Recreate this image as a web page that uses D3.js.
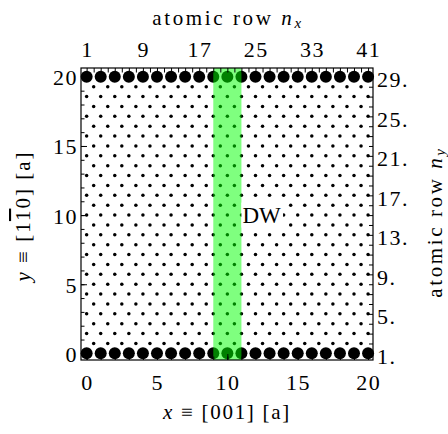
<!DOCTYPE html>
<html>
<head>
<meta charset="utf-8">
<script src="https://cdn.jsdelivr.net/npm/d3@7"></script>
<style>
  html, body { margin: 0; padding: 0; background: #fff; }
  svg { display: block; }
  svg text { font-family: "Liberation Serif", "Times New Roman", Times, serif; }
</style>
</head>
<body>
<svg id="chart" width="448" height="434"></svg>
<script>
// Axis ticks, in lattice units [a] and in atomic-row numbers
const xTicks = [0, 5, 10, 15, 20];
const yTicks = [0, 5, 10, 15, 20];
const nxTicks = [1, 9, 17, 25, 33, 41];
const nyTicks = [1, 5, 9, 13, 17, 21, 25, 29];

// Atomic rows along x (nx) and along y (ny)
const nxRows = [1, 2, 3, 4, 5, 6, 7, 8, 9, 10, 11, 12, 13, 14, 15, 16, 17, 18, 19, 20,
                21, 22, 23, 24, 25, 26, 27, 28, 29, 30, 31, 32, 33, 34, 35, 36, 37, 38, 39, 40, 41];
const nyRows = [1, 2, 3, 4, 5, 6, 7, 8, 9, 10, 11, 12, 13, 14, 15, 16, 17, 18, 19, 20,
                21, 22, 23, 24, 25, 26, 27, 28, 29];
// Edge rows (film boundaries) drawn as large atoms
const edgeRows = [1, 29];

// Domain wall extent in x [a] and label position
const wallX = [9, 11];
const wallLabel = { text: "DW", x: 11, y: 10 };

const svg = d3.select("#chart");
const L = 81, R = 373, T = 68, B = 360;

const x = d3.scaleLinear().domain([-0.4, 20.35]).range([L, R]);
const y = d3.scaleLinear().domain([-0.48, 20.64]).range([B, T]);
// row number -> position
const nxToX = d3.scaleLinear().domain([1, 41]).range([0, 20]);
const nyToY = d3.scaleLinear().domain([1, 29]).range([0, 20]);

// bcc(110) lattice: atoms where nx and ny have the same parity
const atoms = [];
nyRows.forEach(ny => nxRows.forEach(nx => {
  if ((nx + ny) % 2 === 0) atoms.push({ nx, ny, edge: edgeRows.includes(ny) });
}));

const plot = svg.append("g");
plot.selectAll("circle.atom").data(atoms).join("circle")
  .attr("class", "atom")
  .attr("cx", d => x(nxToX(d.nx)))
  .attr("cy", d => y(nyToY(d.ny)))
  .attr("r", d => d.edge ? 6 : 1.75)
  .attr("fill", "#000");

// Domain wall band
plot.append("rect")
  .attr("x", x(wallX[0])).attr("y", T)
  .attr("width", x(wallX[1]) - x(wallX[0])).attr("height", B - T)
  .attr("fill", "rgb(0,255,0)").attr("fill-opacity", 0.5);

// Wall label with white background
const lbl = plot.append("g");
const lblText = lbl.append("text")
  .attr("x", x(wallLabel.x) + 1).attr("y", y(wallLabel.y))
  .attr("dominant-baseline", "central")
  .attr("font-size", 23)
  .text(wallLabel.text);
const bb = lblText.node().getBBox();
lbl.insert("rect", "text")
  .attr("x", x(wallLabel.x)).attr("y", bb.y)
  .attr("width", bb.width + 3).attr("height", bb.height)
  .attr("fill", "#fff");

// Frame axes with inward ticks
svg.append("g").attr("transform", `translate(0,${B})`)
  .call(d3.axisBottom(x).tickValues(d3.range(0, 21)).tickSize(-3.5).tickFormat(""));
svg.append("g").attr("transform", `translate(${L},0)`)
  .call(d3.axisLeft(y).tickValues(d3.range(0, 21)).tickSize(-3.5).tickFormat(""));
svg.append("g").attr("transform", `translate(0,${T})`)
  .call(d3.axisTop(x).tickValues(nxRows.map(nxToX)).tickSize(-4.5).tickFormat(""));
svg.append("g").attr("transform", `translate(${R},0)`)
  .call(d3.axisRight(y).tickValues(nyRows.map(nyToY)).tickSize(-4).tickFormat(""));
// longer major ticks
svg.append("g").attr("transform", `translate(0,${B})`)
  .call(d3.axisBottom(x).tickValues(xTicks).tickSize(-6).tickFormat(""));
svg.append("g").attr("transform", `translate(${L},0)`)
  .call(d3.axisLeft(y).tickValues(yTicks).tickSize(-6).tickFormat(""));

svg.selectAll(".domain").remove();
svg.selectAll(".tick line").attr("stroke", "#000").attr("stroke-width", 1);

svg.append("rect")
  .attr("x", L).attr("y", T).attr("width", R - L).attr("height", B - T)
  .attr("fill", "none").attr("stroke", "#000").attr("stroke-width", 1.2);

// Tick labels
const fs = 22;
const ls = 1.5;
const lab = svg.append("g").attr("font-size", fs).attr("fill", "#000");
lab.selectAll("text.xb").data(xTicks).join("text")
  .attr("x", d => x(d) + ls / 2).attr("y", 390).attr("text-anchor", "middle")
  .attr("letter-spacing", ls).text(d => d);
lab.selectAll("text.yl").data(yTicks).join("text")
  .attr("x", 78).attr("y", d => y(d) + 1).attr("text-anchor", "end")
  .attr("dominant-baseline", "central").attr("letter-spacing", ls).text(d => d);
lab.selectAll("text.xt").data(nxTicks).join("text")
  .attr("x", d => x(nxToX(d)) + ls / 2).attr("y", 57).attr("text-anchor", "middle")
  .attr("letter-spacing", ls).text(d => d);
lab.selectAll("text.yr").data(nyTicks).join("text")
  .attr("x", 377).attr("y", d => y(nyToY(d)) + 3)
  .attr("dominant-baseline", "central").attr("letter-spacing", ls).text(d => d + ".");

// Axis titles
const tfs = 21;
const topTitle = svg.append("text").attr("x", (L + R) / 2 + 1).attr("y", 25)
  .attr("text-anchor", "middle").attr("font-size", tfs).attr("letter-spacing", 2.6);
topTitle.append("tspan").text("atomic row ");
topTitle.append("tspan").attr("font-style", "italic").text("n");
topTitle.append("tspan").attr("font-style", "italic").attr("font-size", 15).attr("dy", 3).text("x");

const botTitle = svg.append("text").attr("x", (L + R) / 2).attr("y", 419)
  .attr("text-anchor", "middle").attr("font-size", tfs).attr("letter-spacing", 1.7);
botTitle.append("tspan").attr("font-style", "italic").text("x");
botTitle.append("tspan").text(" \u2261 [001] [a]");

const leftTitle = svg.append("text")
  .attr("transform", `translate(30,${(T + B) / 2 + 2}) rotate(-90)`)
  .attr("text-anchor", "middle").attr("font-size", tfs).attr("letter-spacing", 2);
leftTitle.append("tspan").attr("font-style", "italic").text("y");
leftTitle.append("tspan").text(" \u2261 [1");
leftTitle.append("tspan").style("text-decoration", "overline").text("1");
leftTitle.append("tspan").text("0] [a]");

const rightTitle = svg.append("text")
  .attr("transform", `translate(442,${(T + B) / 2 + 8}) rotate(-90)`)
  .attr("text-anchor", "middle").attr("font-size", tfs).attr("letter-spacing", 2.6);
rightTitle.append("tspan").text("atomic row ");
rightTitle.append("tspan").attr("font-style", "italic").text("n");
rightTitle.append("tspan").attr("font-style", "italic").attr("font-size", 15).attr("dy", 3).text("y");
</script>
</body>
</html>
